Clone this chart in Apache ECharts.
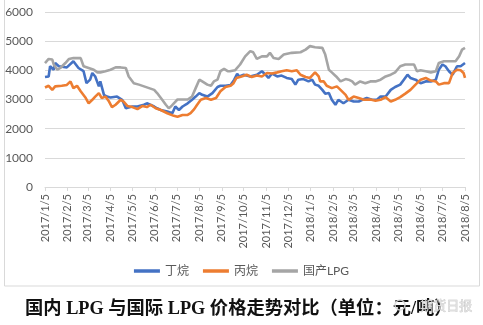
<!DOCTYPE html>
<html>
<head>
<meta charset="utf-8">
<script src="https://cdn.jsdelivr.net/npm/echarts@6/dist/echarts.min.js"></script>
<style>
html,body{margin:0;padding:0;background:#fff;}
#c{width:483px;height:325px;}
</style>
</head>
<body>
<div id="c"></div>
<script>
// Series names
const seriesNames = ['丁烷', '丙烷', '国产LPG'];
// Y axis ticks
const yTicks = [0, 1000, 2000, 3000, 4000, 5000, 6000];

// 丁烷 (butane) [date, price]
const butane = [
 ['2017/1/5',3770],['2017/1/10',3790],['2017/1/12',4140],['2017/1/17',4020],['2017/1/19',4250],['2017/1/24',4140],
 ['2017/2/4',4100],['2017/2/13',4310],['2017/2/20',4080],['2017/2/27',3970],
 ['2017/3/3',3560],['2017/3/8',3680],['2017/3/11',3910],['2017/3/15',3790],['2017/3/20',3450],['2017/3/22',3620],['2017/3/27',3160],['2017/3/31',3100],
 ['2017/4/5',3070],['2017/4/14',3100],['2017/4/21',2990],['2017/4/26',2700],['2017/4/28',2640],
 ['2017/5/5',2760],['2017/5/12',2760],['2017/5/21',2820],['2017/5/25',2870],
 ['2017/6/4',2760],['2017/6/8',2700],['2017/6/13',2640],['2017/6/22',2590],['2017/6/29',2530],
 ['2017/7/3',2760],['2017/7/8',2640],['2017/7/13',2760],['2017/7/20',2870],['2017/7/26',2990],['2017/7/31',3100],
 ['2017/8/5',3220],['2017/8/9',3160],['2017/8/16',3100],['2017/8/23',3220],['2017/8/30',3430],
 ['2017/9/3',3470],['2017/9/10',3470],['2017/9/17',3500],['2017/9/22',3680],['2017/9/26',3880],['2017/9/29',3790],
 ['2017/10/5',3850],['2017/10/14',3790],['2017/10/23',3850],['2017/10/30',3970],
 ['2017/11/4',3850],['2017/11/8',3740],['2017/11/13',3890],['2017/11/20',3790],['2017/11/26',3820],
 ['2017/12/3',3740],['2017/12/10',3700],['2017/12/15',3510],['2017/12/19',3680],['2017/12/26',3700],
 ['2018/1/2',3620],['2018/1/7',3680],['2018/1/11',3510],['2018/1/16',3470],['2018/1/21',3330],['2018/1/25',3200],['2018/1/30',3220],
 ['2018/2/3',2990],['2018/2/8',2820],['2018/2/12',2990],['2018/2/19',2870],['2018/2/26',2990],
 ['2018/3/5',2930],['2018/3/12',2930],['2018/3/17',2990],['2018/3/23',3050],['2018/3/30',2990],
 ['2018/4/6',2990],['2018/4/11',3100],['2018/4/18',3100],['2018/4/25',3330],
 ['2018/5/1',3430],['2018/5/8',3510],['2018/5/13',3680],['2018/5/18',3850],['2018/5/22',3740],['2018/5/29',3680],
 ['2018/6/5',3560],['2018/6/12',3620],['2018/6/19',3620],['2018/6/26',3680],['2018/6/30',4020],
 ['2018/7/5',4200],['2018/7/9',4140],['2018/7/14',3970],['2018/7/19',3850],['2018/7/25',4140],['2018/7/30',4140],
 ['2018/8/5',4250]
];

// 丙烷 (propane)
const propane = [
 ['2017/1/5',3410],['2017/1/10',3470],['2017/1/15',3330],['2017/1/19',3450],['2017/1/28',3470],
 ['2017/2/4',3500],['2017/2/9',3620],['2017/2/13',3390],['2017/2/18',3470],['2017/2/23',3280],
 ['2017/3/2',3050],['2017/3/6',2870],['2017/3/11',2990],['2017/3/15',3100],['2017/3/20',3220],['2017/3/24',3050],['2017/3/29',3100],
 ['2017/4/3',2930],['2017/4/7',2740],['2017/4/12',2820],['2017/4/19',2990],['2017/4/23',2930],['2017/4/28',2780],
 ['2017/5/5',2740],['2017/5/12',2670],['2017/5/19',2780],['2017/5/25',2740],['2017/5/30',2820],
 ['2017/6/6',2700],['2017/6/13',2640],['2017/6/22',2530],
 ['2017/7/1',2440],['2017/7/6',2410],['2017/7/13',2470],['2017/7/20',2470],['2017/7/24',2530],['2017/7/29',2670],
 ['2017/8/2',2820],['2017/8/7',2990],['2017/8/14',3050],['2017/8/21',2990],['2017/8/28',3050],
 ['2017/9/3',3280],['2017/9/10',3430],['2017/9/17',3470],['2017/9/21',3560],['2017/9/25',3740],
 ['2017/10/2',3790],['2017/10/9',3850],['2017/10/16',3770],['2017/10/23',3820],['2017/10/30',3790],
 ['2017/11/6',3910],['2017/11/13',3890],['2017/11/20',3930],['2017/11/26',3970],
 ['2017/12/3',4000],['2017/12/10',3970],['2017/12/17',4000],['2017/12/22',3850],['2017/12/29',3770],
 ['2018/1/4',3740],['2018/1/11',3930],['2018/1/16',3790],['2018/1/18',3620],['2018/1/23',3620],['2018/1/27',3470],
 ['2018/2/3',3390],['2018/2/10',3450],['2018/2/15',3330],['2018/2/22',3160],['2018/2/26',2990],
 ['2018/3/5',3100],['2018/3/12',3050],['2018/3/19',2990],['2018/3/28',3000],
 ['2018/4/4',2960],['2018/4/11',2990],['2018/4/18',3080],['2018/4/25',2930],
 ['2018/5/1',2990],['2018/5/8',3080],['2018/5/15',3200],['2018/5/22',3330],['2018/5/29',3510],
 ['2018/6/5',3680],['2018/6/12',3740],['2018/6/19',3650],['2018/6/26',3620],['2018/6/30',3510],
 ['2018/7/7',3560],['2018/7/14',3560],['2018/7/19',3910],['2018/7/25',4020],['2018/7/30',4000],
 ['2018/8/3',3910],['2018/8/5',3740]
];

// 国产LPG (domestic LPG)
const domestic = [
 ['2017/1/5',4250],['2017/1/10',4390],['2017/1/15',4370],['2017/1/17',4200],['2017/1/22',4020],['2017/1/26',4080],
 ['2017/2/2',4250],['2017/2/7',4390],['2017/2/13',4420],['2017/2/23',4420],['2017/2/27',4140],
 ['2017/3/6',4080],['2017/3/13',4020],['2017/3/18',3930],['2017/3/22',3930],['2017/3/29',3970],
 ['2017/4/5',4020],['2017/4/12',4100],['2017/4/19',4100],['2017/4/26',4080],['2017/4/30',3790],
 ['2017/5/7',3560],['2017/5/14',3510],['2017/5/21',3450],['2017/5/28',3390],
 ['2017/6/4',3330],['2017/6/8',3220],['2017/6/15',2990],['2017/6/20',2820],['2017/6/24',2700],['2017/6/27',2760],
 ['2017/7/1',2870],['2017/7/6',3000],['2017/7/13',3000],['2017/7/20',3000],['2017/7/26',3100],['2017/7/31',3390],
 ['2017/8/5',3680],['2017/8/9',3620],['2017/8/16',3510],['2017/8/21',3470],['2017/8/25',3620],['2017/8/30',3680],
 ['2017/9/3',3970],['2017/9/8',4050],['2017/9/13',3970],['2017/9/16',3970],['2017/9/23',4000],['2017/9/30',4200],
 ['2017/10/7',4480],['2017/10/14',4660],['2017/10/18',4620],['2017/10/23',4390],['2017/10/30',4480],
 ['2017/11/6',4480],['2017/11/10',4600],['2017/11/15',4420],['2017/11/22',4390],['2017/11/29',4540],
 ['2017/12/10',4600],['2017/12/22',4620],['2017/12/29',4710],
 ['2018/1/4',4830],['2018/1/11',4790],['2018/1/21',4770],['2018/1/25',4540],['2018/1/30',4020],
 ['2018/2/3',3930],['2018/2/9',3790],['2018/2/15',3620],['2018/2/22',3700],['2018/2/26',3680],
 ['2018/3/3',3620],['2018/3/7',3510],['2018/3/14',3620],['2018/3/21',3560],['2018/3/28',3620],
 ['2018/4/4',3620],['2018/4/11',3680],['2018/4/18',3790],['2018/4/25',3850],
 ['2018/5/1',3930],['2018/5/8',4140],['2018/5/15',4200],['2018/5/27',4200],['2018/5/31',3970],
 ['2018/6/5',4000],['2018/6/12',3970],['2018/6/19',3930],['2018/6/26',3970],['2018/6/30',4250],
 ['2018/7/7',4310],['2018/7/23',4310],['2018/7/28',4480],['2018/8/1',4710],['2018/8/5',4770]
];

// Daily date categories 2017/1/5 .. 2018/8/5
const categories = [];
for (let d = new Date(2017, 0, 5, 12); d <= new Date(2018, 7, 5, 13); d.setDate(d.getDate() + 1)) {
  categories.push(d.getFullYear() + '/' + (d.getMonth() + 1) + '/' + d.getDate());
}
const isMonthTick = (i, v) => String(v).split('/')[2] === '5';
const toData = arr => arr.map(p => [categories.indexOf(p[0]), p[1]]);

const FONT = "Lato, 'Noto Sans CJK SC', sans-serif";
const chart = echarts.init(document.getElementById('c'), null, {renderer: 'canvas'});
chart.setOption({
  animation: false,
  color: ['#4472C4', '#ED7D31', '#A5A5A5'],
  textStyle: {fontFamily: FONT},
  grid: {left: 45, right: 18, top: 12, bottom: 138, containLabel: false},
  xAxis: {
    type: 'category',
    data: categories,
    boundaryGap: false,
    axisLine: {lineStyle: {color: '#d9d9d9', width: 1}},
    axisTick: {show: true, interval: isMonthTick, length: 4, lineStyle: {color: '#d9d9d9'}},
    axisLabel: {interval: isMonthTick, rotate: 90, fontSize: 11, color: '#595959', margin: 7, fontFamily: FONT},
    splitLine: {show: false}
  },
  yAxis: {
    type: 'value',
    min: yTicks[0], max: yTicks[yTicks.length - 1], interval: 1000,
    axisLine: {show: false},
    axisTick: {show: false},
    axisLabel: {fontSize: 12, color: '#595959', margin: 12, fontFamily: FONT, formatter: v => String(v)},
    splitLine: {lineStyle: {color: '#d9d9d9', width: 1}}
  },
  legend: {
    top: 260, left: 'center',
    icon: 'rect', itemWidth: 26, itemHeight: 3.5, itemGap: 14,
    textStyle: {fontSize: 12, color: '#595959', fontFamily: FONT},
    data: seriesNames
  },
  series: [
    {name: seriesNames[0], type: 'line', data: toData(butane), showSymbol: false, lineStyle: {width: 2.6}},
    {name: seriesNames[1], type: 'line', data: toData(propane), showSymbol: false, lineStyle: {width: 2.6}},
    {name: seriesNames[2], type: 'line', data: toData(domestic), showSymbol: false, lineStyle: {width: 2.6}}
  ],
  graphic: [
    {type: 'rect', shape: {x: 4.5, y: -5, width: 475, height: 291}, style: {fill: 'none', stroke: '#d9d9d9', lineWidth: 1}, silent: true},
    {type: 'text', left: 25, top: 300,
     style: {text: '国内 LPG 与国际 LPG 价格走势对比（单位：元/吨）', fontSize: 18.3, fontWeight: 'bold',
             fontFamily: "'Liberation Serif', 'Noto Sans CJK SC', serif", fill: '#111'}},
    {type: 'circle', shape: {cx: 400, cy: 305, r: 5}, style: {fill: 'none', stroke: 'rgba(215,215,215,0.9)', lineWidth: 1.5}, z: 100},
    {type: 'text', left: 420, top: 298,
     style: {text: '期货日报', fontSize: 13, fill: 'rgba(225,225,225,0.9)', stroke: 'rgba(140,140,140,0.6)', lineWidth: 0.5,
             fontFamily: "'Noto Sans CJK SC', sans-serif"}, z: 100}
  ]
});
</script>
</body>
</html>
